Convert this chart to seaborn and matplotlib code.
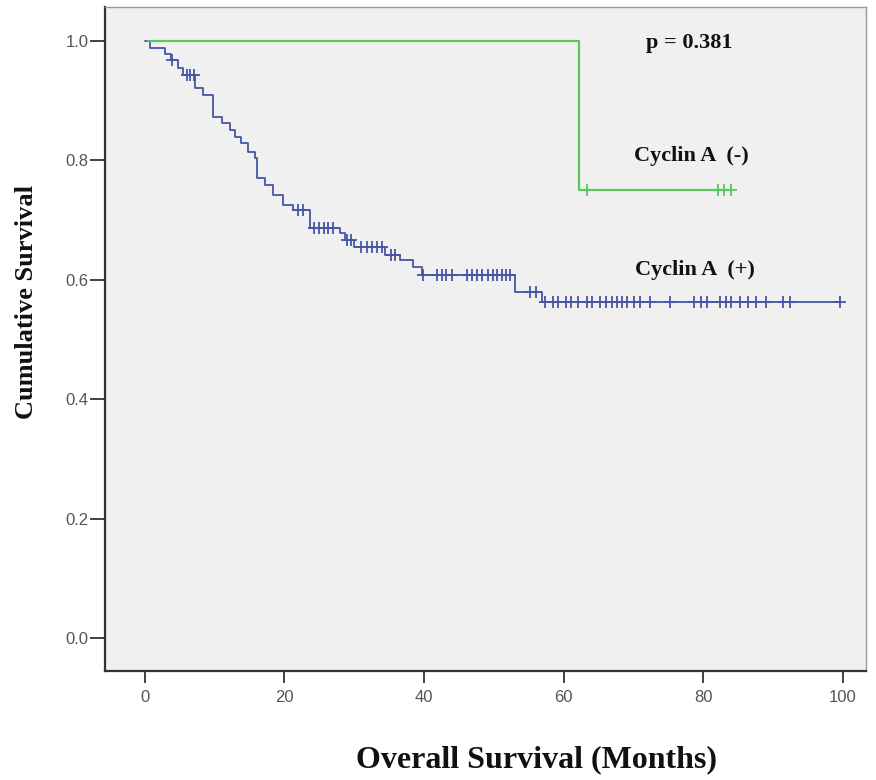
import numpy as np
import pandas as pd
import matplotlib
matplotlib.use("Agg")
import matplotlib.pyplot as plt
import seaborn as sns

# ---- data ----
# Cyclin A (+) Kaplan-Meier steps
pos_times = [0, 0.7, 2.9, 3.8, 4.8, 5.5, 7.2, 8.3, 9.8, 11.0, 12.2, 12.9, 13.8, 14.8,
             15.8, 16.0, 17.2, 18.4, 19.8, 21.2, 23.6, 28.0, 28.7, 30.0, 34.4, 36.5,
             38.4, 39.7, 53.0, 56.9, 99.6]
pos_surv = [1.0, 0.988, 0.979, 0.968, 0.955, 0.943, 0.921, 0.910, 0.873, 0.862, 0.851,
            0.839, 0.829, 0.815, 0.804, 0.770, 0.759, 0.742, 0.725, 0.717, 0.687, 0.678,
            0.667, 0.655, 0.642, 0.633, 0.621, 0.608, 0.580, 0.563, 0.563]
pos_censor = [3.9, 6.0, 6.5, 7.0, 22.0, 22.7, 24.2, 24.9, 25.6, 26.3, 27.0, 29.0, 29.6,
              31.0, 31.8, 32.5, 33.3, 34.0, 35.2, 35.9, 39.9, 41.8, 42.5, 43.2, 44.0,
              46.1, 46.9, 47.6, 48.3, 49.1, 49.9, 50.5, 51.1, 51.7, 52.3, 55.2, 56.1,
              57.3, 58.5, 59.2, 60.4, 61.1, 62.1, 63.3, 64.0, 65.2, 66.1, 66.9, 67.6,
              68.3, 69.0, 70.0, 70.9, 72.4, 75.2, 78.6, 79.7, 80.5, 82.4, 83.3, 84.0,
              85.2, 86.4, 87.6, 89.0, 91.4, 92.4, 99.6]

# Cyclin A (-) Kaplan-Meier steps
neg_times = [0.4, 62.2, 84.0]
neg_surv = [1.0, 0.75, 0.75]
neg_censor = [63.3, 82.1, 83.0, 84.0]

x_ticks = [0, 20, 40, 60, 80, 100]
y_ticks = [0.0, 0.2, 0.4, 0.6, 0.8, 1.0]

blue = "#4656a6"
green = "#5cc55c"


def surv_at(times, surv, t):
    idx = np.searchsorted(np.asarray(times), t, side="right") - 1
    return np.asarray(surv)[idx]


sns.set_style("white")
plt.rcParams["font.family"] = ["Liberation Sans", "DejaVu Sans"]

fig = plt.figure(figsize=(8.76, 7.8), dpi=100)
ax = fig.add_axes([105 / 876, 1 - 671 / 780, (866 - 105) / 876, (671 - 7) / 780])
ax.set_facecolor("#f0f0f0")

df_pos = pd.DataFrame({"t": pos_times, "s": pos_surv})
df_neg = pd.DataFrame({"t": neg_times, "s": neg_surv})
sns.lineplot(data=df_pos, x="t", y="s", ax=ax, color=blue, lw=1.3,
             drawstyle="steps-post", estimator=None, sort=False)
sns.lineplot(data=df_neg, x="t", y="s", ax=ax, color=green, lw=1.6,
             drawstyle="steps-post", estimator=None, sort=False)

cp = pd.DataFrame({"t": pos_censor, "s": surv_at(pos_times, pos_surv, pos_censor)})
cn = pd.DataFrame({"t": neg_censor, "s": surv_at(neg_times, neg_surv, neg_censor)})
sns.scatterplot(data=cp, x="t", y="s", ax=ax, marker="+", color=blue, s=70,
                linewidth=1.3, zorder=3)
sns.scatterplot(data=cn, x="t", y="s", ax=ax, marker="+", color=green, s=70,
                linewidth=1.3, zorder=3)

ax.set_xlim(-5.7, 103.3)
ax.set_ylim(-0.055, 1.057)
ax.set_xticks(x_ticks)
ax.set_xticklabels([str(v) for v in x_ticks])
ax.set_yticks(y_ticks)
ax.set_yticklabels([f"{v:.1f}" for v in y_ticks])
ax.tick_params(axis="both", direction="out", width=1.3, color="#333333",
               labelsize=12, labelcolor="#555555", bottom=True, left=True)
ax.tick_params(axis="x", length=8.5, pad=5)
ax.tick_params(axis="y", length=11, pad=1)
for side in ["left", "bottom"]:
    ax.spines[side].set_color("#333333")
    ax.spines[side].set_linewidth(1.6)
for side in ["top", "right"]:
    ax.spines[side].set_color("#999999")
    ax.spines[side].set_linewidth(1.0)

serif = ["Liberation Serif", "DejaVu Serif"]
ax.set_xlabel("")
ax.set_ylabel("")
fig.text(537 / 876, 1 - 760 / 780, "Overall Survival (Months)", family=serif,
         fontweight="bold", fontsize=23, ha="center", va="center", color="#111111")
fig.text(27 / 876, 1 - 302 / 780, "Cumulative Survival", family=serif,
         fontweight="bold", fontsize=19, ha="center", va="center", rotation=90,
         color="#111111")

ax.annotate("p = 0.381", xy=((689 - 145) / 6.98, (638 - 43) / 597), family=serif,
            fontweight="bold", fontsize=16, ha="center", va="center", color="#111111")
ax.annotate("Cyclin A  (-)", xy=((691 - 145) / 6.98, (638 - 156) / 597), family=serif,
            fontweight="bold", fontsize=16, ha="center", va="center", color="#111111")
ax.annotate("Cyclin A  (+)", xy=((695 - 145) / 6.98, (638 - 270) / 597), family=serif,
            fontweight="bold", fontsize=16, ha="center", va="center", color="#111111")

fig.savefig("out.png", dpi=100, facecolor="white")
